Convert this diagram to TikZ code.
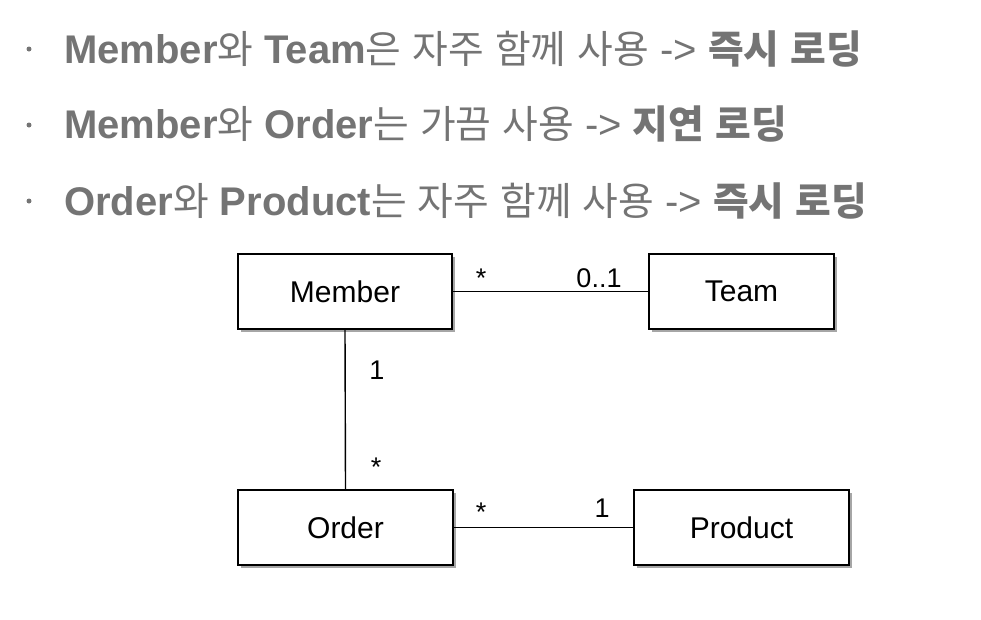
\documentclass[tikz,border=0pt]{standalone}
\usepackage{fontspec}
\setmainfont{Liberation Sans}
\newfontfamily\krfont[Scale=0.97]{Noto Sans CJK KR}
\usetikzlibrary{shadows}
\definecolor{txtgray}{HTML}{747474}
\newcommand\eb[1]{{\bfseries #1}}
\newcommand\kn[1]{{\krfont #1}}
\newcommand\kbd[1]{{\krfont\bfseries #1}}
\tikzset{
  headline/.style={anchor=base west, inner sep=0pt, text=txtgray, font=\fontsize{40}{48}\selectfont},
  bulletdot/.style={circle, fill=txtgray, inner sep=0pt, minimum size=5pt},
  classbox/.style={draw=black, line width=1.6pt, fill=white, minimum height=75pt, inner sep=0pt,
    font=\fontsize{30}{36}\selectfont,
    drop shadow={shadow xshift=2.5pt, shadow yshift=-2.5pt, fill=black, opacity=0.35}},
  assoc/.style={draw=black, line width=1.4pt},
  mult/.style={anchor=base, inner sep=0pt, font=\fontsize{27}{32}\selectfont},
}
\begin{document}
\begin{tikzpicture}[x=1pt, y=-1pt]
\path[use as bounding box] (0,0) rectangle (981,619);

% header lines
\node[bulletdot] (b1) at (29,49) {};
\node[bulletdot] (b2) at (29,125) {};
\node[bulletdot] (b3) at (29,201) {};
\node[headline] (l1) at (64,63) {\eb{Member}\kn{와} \eb{Team}\kn{은} \kn{자주} \kn{함께} \kn{사용} -> \kbd{즉시} \kbd{로딩}};
\node[headline] (l2) at (64,138) {\eb{Member}\kn{와} \eb{Order}\kn{는} \kn{가끔} \kn{사용} -> \kbd{지연} \kbd{로딩}};
\node[headline] (l3) at (64,215) {\eb{Order}\kn{와} \eb{Product}\kn{는} \kn{자주} \kn{함께} \kn{사용} -> \kbd{즉시} \kbd{로딩}};

% class boxes
\node[classbox, minimum width=214pt] (member) at (345,291.5) {Member};
\node[classbox, minimum width=185pt] (team) at (741.5,291.5) {Team};
\node[classbox, minimum width=215pt] (order) at (345.5,527.5) {Order};
\node[classbox, minimum width=215pt] (product) at (741.5,527.5) {Product};

% associations
\draw[assoc] (member.east) -- (team.west);
\draw[assoc] (member.south) -- (order.north);
\draw[assoc] (order.east) -- (product.west);

% multiplicities
\node[mult] (m1) at (481,287) {*};
\node[mult] (m2) at (599,287) {0..1};
\node[mult] (m3) at (377,379) {1};
\node[mult] (m4) at (376,476) {*};
\node[mult] (m5) at (481,521) {*};
\node[mult] (m6) at (602,517) {1};
\end{tikzpicture}
\end{document}
